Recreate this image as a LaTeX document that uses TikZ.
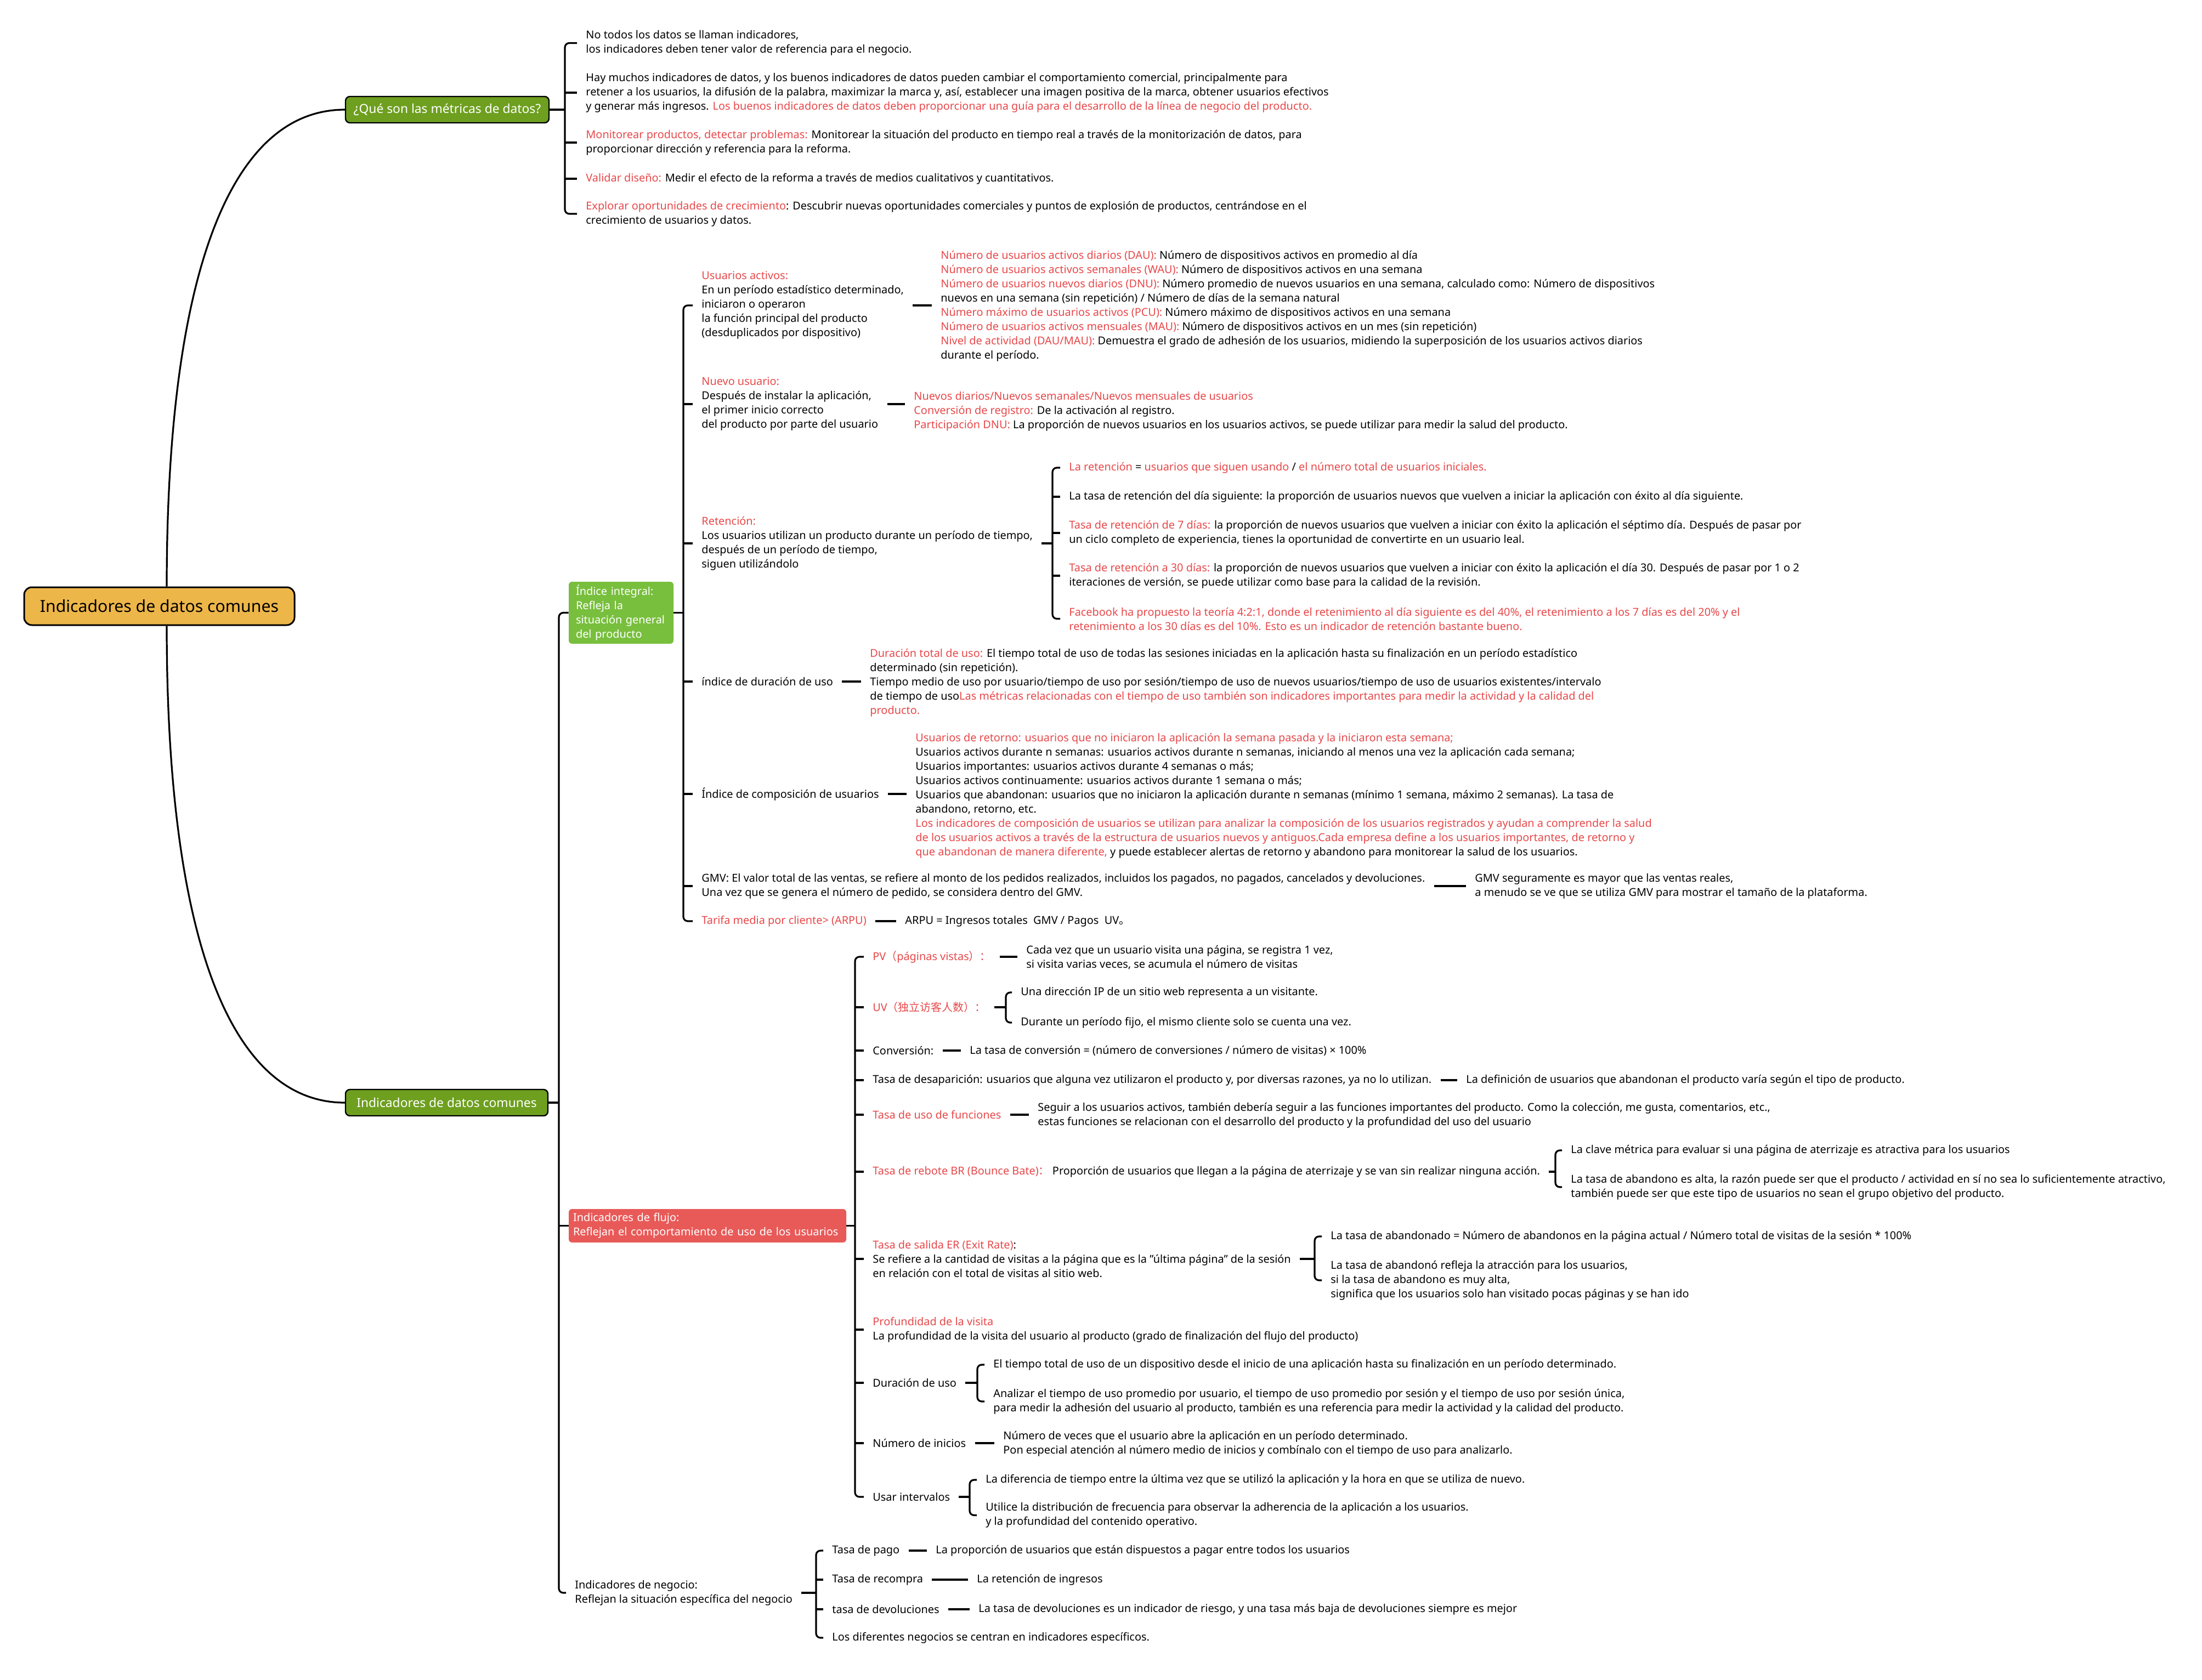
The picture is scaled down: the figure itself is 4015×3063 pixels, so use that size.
\documentclass[tikz,border=0pt]{standalone}
\usepackage{fontspec}
\setmainfont{Noto Sans}
\newfontfamily\cjk{Noto Sans CJK SC}
\usetikzlibrary{calc}
\definecolor{red1}{HTML}{E8484A}
\definecolor{rootfill}{HTML}{EDB649}
\definecolor{green1}{HTML}{6E9F1F}
\definecolor{green2}{HTML}{78BF3D}
\definecolor{redbox}{HTML}{E85A58}
\newcommand\rd[1]{\textcolor{red1}{#1}}
\newcommand\bodyfont{\fontsize{9.95}{13}\selectfont\hyphenpenalty=10000}
\newcommand\brkt[3]{\draw[brkline] (#2.west) -| (#1 |- #3.west) -- (#3.west);}
\newcommand\tick[2]{\draw[conn] (#2.west) -- (#1 |- #2.west);}
\newcommand\feed[2]{\draw[conn] (#2.east) -- (#1 |- #2.east);}
\newcommand\link[2]{\draw[conn] (#1.east) -- (#2.west |- #1.east);}
\tikzset{
  txt/.style={anchor=west, align=left, inner xsep=8pt, inner ysep=2pt, font=\bodyfont},
  conn/.style={line width=1.6pt},
  brkline/.style={line width=1.6pt, rounded corners=4pt},
  gbox/.style={fill=green1, draw=black, line width=1.2pt, rounded corners=4pt, text=white,
    font=\fontsize{11.4}{14}\selectfont, inner sep=0pt, minimum height=24pt},
}
\begin{document}
\begin{tikzpicture}[x=0.5pt,y=-0.5pt]
\useasboundingbox (0,0) rectangle (4015,3063);
\fill[white] (0,0) rectangle (4015,3063);

% bracket x positions
\coordinate (bq) at (1030,0);
\coordinate (bB) at (1019,0);
\coordinate (bi) at (1246,0);
\coordinate (brt) at (1919,0);
\coordinate (bf) at (1559,0);
\coordinate (buv) at (1834,0);
\coordinate (brb) at (2836,0);
\coordinate (ber) at (2397,0);
\coordinate (bdur) at (1782,0);
\coordinate (bui) at (1768,0);
\coordinate (bn) at (1488,0);
\coordinate (cx) at (304,0);

% main nodes
\node[fill=rootfill, draw=black, line width=1.5pt, rounded corners=7pt, minimum width=246.5pt,
  minimum height=34.5pt, inner sep=0pt, font=\fontsize{15.1}{18}\selectfont] (root) at (290.5,1105.5) {Indicadores de datos comunes};
\node[gbox, minimum width=185.5pt] (b1) at (815.5,200) {¿Qué son las métricas de datos?};
\node[gbox, minimum width=184.5pt] (b2) at (814.5,2011) {Indicadores de datos comunes};
\draw[conn] (root.north -| cx) .. controls (304,500) and (420,200) .. (b1.west);
\draw[conn] (root.south -| cx) .. controls (304,1711) and (420,2011) .. (b2.west);

% branch 1 children
\node[txt] (q1) at (1052,78.5) {No todos los datos se llaman indicadores,\\los indicadores deben tener valor de referencia para el negocio.};
\node[txt] (q2) at (1052,169) {Hay muchos indicadores de datos, y los buenos indicadores de datos pueden cambiar el comportamiento comercial, principalmente para\\retener a los usuarios, la difusión de la palabra, maximizar la marca y, así, establecer una imagen positiva de la marca, obtener usuarios efectivos\\y generar más ingresos. \rd{Los buenos indicadores de datos deben proporcionar una guía para el desarrollo de la línea de negocio del producto.}};
\node[txt] (q3) at (1052,260) {\rd{Monitorear productos, detectar problemas:} Monitorear la situación del producto en tiempo real a través de la monitorización de datos, para\\proporcionar dirección y referencia para la reforma.};
\node[txt] (q4) at (1052,326) {\rd{Validar diseño:} Medir el efecto de la reforma a través de medios cualitativos y cuantitativos.};
\node[txt] (q5) at (1052,390) {\rd{Explorar oportunidades de crecimiento}: Descubrir nuevas oportunidades comerciales y puntos de explosión de productos, centrándose en el\\crecimiento de usuarios y datos.};
\feed{bq}{b1}
\brkt{bq}{q1}{q5}
\tick{bq}{q2}\tick{bq}{q3}\tick{bq}{q4}

% branch 2 children
\node[fill=green2, rounded corners=3pt, text=white, font=\bodyfont, align=left, text width=82.5pt,
  inner xsep=6.5pt, inner ysep=0pt, minimum height=56.5pt] (ii) at (1132.5,1117.5) {Índice integral:\\Refleja la\\situación general\\del producto};
\node[fill=redbox, rounded corners=3pt, text=white, font=\bodyfont, align=left, text width=245pt,
  inner xsep=4pt, inner ysep=0pt, minimum height=30.5pt] (fl) at (1290,2235.5) {Indicadores de flujo:\\Reflejan el comportamiento de uso de los usuarios};
\node[txt] (ng) at (1032,2905) {Indicadores de negocio:\\Reflejan la situación específica del negocio};
\feed{bB}{b2}
\brkt{bB}{ii}{ng}
\tick{bB}{fl}

% Indice integral children
\node[txt] (ua) at (1263,557) {\rd{Usuarios activos:}\\En un período estadístico determinado,\\iniciaron o operaron\\la función principal del producto\\(desduplicados por dispositivo)};
\node[txt] (uaS) at (1699,558.5) {\rd{Número de usuarios activos diarios (DAU):} Número de dispositivos activos en promedio al día\\\rd{Número de usuarios activos semanales (WAU):} Número de dispositivos activos en una semana\\\rd{Número de usuarios nuevos diarios (DNU):} Número promedio de nuevos usuarios en una semana, calculado como: Número de dispositivos\\nuevos en una semana (sin repetición) / Número de días de la semana natural\\\rd{Número máximo de usuarios activos (PCU):} Número máximo de dispositivos activos en una semana\\\rd{Número de usuarios activos mensuales (MAU):} Número de dispositivos activos en un mes (sin repetición)\\\rd{Nivel de actividad (DAU/MAU):} Demuestra el grado de adhesión de los usuarios, midiendo la superposición de los usuarios activos diarios\\durante el período.};
\link{ua}{uaS}
\node[txt] (nu) at (1263,737) {\rd{Nuevo usuario:}\\Después de instalar la aplicación,\\el primer inicio correcto\\del producto por parte del usuario};
\node[txt] (nuS) at (1650,750) {\rd{Nuevos diarios/Nuevos semanales/Nuevos mensuales de usuarios}\\\rd{Conversión de registro:} De la activación al registro.\\\rd{Participación DNU:} La proporción de nuevos usuarios en los usuarios activos, se puede utilizar para medir la salud del producto.};
\link{nu}{nuS}
\node[txt] (rt) at (1263,991) {\rd{Retención:}\\Los usuarios utilizan un producto durante un período de tiempo,\\después de un período de tiempo,\\siguen utilizándolo};
\node[txt] (rt1) at (1933,853) {\rd{La retención} = \rd{usuarios que siguen usando} / \rd{el número total de usuarios iniciales.}};
\node[txt] (rt2) at (1933,906) {La tasa de retención del día siguiente: la proporción de usuarios nuevos que vuelven a iniciar la aplicación con éxito al día siguiente.};
\node[txt] (rt3) at (1933,972) {\rd{Tasa de retención de 7 días:} la proporción de nuevos usuarios que vuelven a iniciar con éxito la aplicación el séptimo día. Después de pasar por\\un ciclo completo de experiencia, tienes la oportunidad de convertirte en un usuario leal.};
\node[txt] (rt4) at (1933,1050) {\rd{Tasa de retención a 30 días:} la proporción de nuevos usuarios que vuelven a iniciar con éxito la aplicación el día 30. Después de pasar por 1 o 2\\iteraciones de versión, se puede utilizar como base para la calidad de la revisión.};
\node[txt, text=red1] (rt5) at (1933,1128.5) {Facebook ha propuesto la teoría 4:2:1, donde el retenimiento al día siguiente es del 40\%, el retenimiento a los 7 días es del 20\% y el\\retenimiento a los 30 días es del 10\%. Esto es un indicador de retención bastante bueno.};
\feed{brt}{rt}
\brkt{brt}{rt1}{rt5}
\tick{brt}{rt2}\tick{brt}{rt3}\tick{brt}{rt4}
\node[txt] (du) at (1263,1243) {índice de duración de uso};
\node[txt] (duS) at (1570,1245) {\rd{Duración total de uso:} El tiempo total de uso de todas las sesiones iniciadas en la aplicación hasta su finalización en un período estadístico\\determinado (sin repetición).\\Tiempo medio de uso por usuario/tiempo de uso por sesión/tiempo de uso de nuevos usuarios/tiempo de uso de usuarios existentes/intervalo\\de tiempo de uso\rd{Las métricas relacionadas con el tiempo de uso también son indicadores importantes para medir la actividad y la calidad del}\\\rd{producto.}};
\link{du}{duS}
\node[txt] (co) at (1263,1448) {Índice de composición de usuarios};
\node[txt] (coS) at (1653,1451) {\rd{Usuarios de retorno: usuarios que no iniciaron la aplicación la semana pasada y la iniciaron esta semana;}\\Usuarios activos durante n semanas: usuarios activos durante n semanas, iniciando al menos una vez la aplicación cada semana;\\Usuarios importantes: usuarios activos durante 4 semanas o más;\\Usuarios activos continuamente: usuarios activos durante 1 semana o más;\\Usuarios que abandonan: usuarios que no iniciaron la aplicación durante n semanas (mínimo 1 semana, máximo 2 semanas). La tasa de\\abandono, retorno, etc.\\\rd{Los indicadores de composición de usuarios se utilizan para analizar la composición de los usuarios registrados y ayudan a comprender la salud}\\\rd{de los usuarios activos a través de la estructura de usuarios nuevos y antiguos.Cada empresa define a los usuarios importantes, de retorno y}\\\rd{que abandonan de manera diferente,} y puede establecer alertas de retorno y abandono para monitorear la salud de los usuarios.};
\link{co}{coS}
\node[txt] (gmv) at (1263,1616) {GMV: El valor total de las ventas, se refiere al monto de los pedidos realizados, incluidos los pagados, no pagados, cancelados y devoluciones.\\Una vez que se genera el número de pedido, se considera dentro del GMV.};
\node[txt] (gmvS) at (2673,1616) {GMV seguramente es mayor que las ventas reales,\\a menudo se ve que se utiliza GMV para mostrar el tamaño de la plataforma.};
\link{gmv}{gmvS}
\node[txt, text=red1] (arpu) at (1263,1680) {Tarifa media por cliente> (ARPU)};
\node[txt] (arpuS) at (1634,1680) {ARPU = Ingresos totales\ \ GMV / Pagos\ \ UV{\cjk 。}};
\link{arpu}{arpuS}
\feed{bi}{ii}
\brkt{bi}{ua}{arpu}
\tick{bi}{nu}\tick{bi}{rt}\tick{bi}{du}\tick{bi}{co}\tick{bi}{gmv}

% Flujo children
\node[txt, text=red1] (pv) at (1575,1745) {PV{\cjk （}páginas vistas{\cjk ）：}};
\node[txt] (pvS) at (1855,1746.5) {Cada vez que un usuario visita una página, se registra 1 vez,\\si visita varias veces, se acumula el número de visitas};
\link{pv}{pvS}
\node[txt, text=red1] (uv) at (1575,1837) {UV{\cjk （独立访客人数）：}};
\node[txt] (uv1) at (1845,1810) {Una dirección IP de un sitio web representa a un visitante.};
\node[txt] (uv2) at (1845,1865) {Durante un período fijo, el mismo cliente solo se cuenta una vez.};
\feed{buv}{uv}
\brkt{buv}{uv1}{uv2}
\node[txt] (cv) at (1575,1916) {Conversión:};
\node[txt] (cvS) at (1752,1916) {La tasa de conversión = (número de conversiones / número de visitas) × 100\%};
\link{cv}{cvS}
\node[txt] (ds) at (1575,1970) {Tasa de desaparición: usuarios que alguna vez utilizaron el producto y, por diversas razones, ya no lo utilizan.};
\node[txt] (dsS) at (2657,1970) {La definición de usuarios que abandonan el producto varía según el tipo de producto.};
\link{ds}{dsS}
\node[txt, text=red1] (fu) at (1575,2033) {Tasa de uso de funciones};
\node[txt] (fuS) at (1876,2034) {Seguir a los usuarios activos, también debería seguir a las funciones importantes del producto. Como la colección, me gusta, comentarios, etc.,\\estas funciones se relacionan con el desarrollo del producto y la profundidad del uso del usuario};
\link{fu}{fuS}
\node[txt] (rb) at (1575,2137) {\rd{Tasa de rebote BR (Bounce Bate){\cjk ：}} Proporción de usuarios que llegan a la página de aterrizaje y se van sin realizar ninguna acción.};
\node[txt] (rb1) at (2848,2098) {La clave métrica para evaluar si una página de aterrizaje es atractiva para los usuarios};
\node[txt] (rb2) at (2848,2165) {La tasa de abandono es alta, la razón puede ser que el producto / actividad en sí no sea lo suficientemente atractivo,\\también puede ser que este tipo de usuarios no sean el grupo objetivo del producto.};
\feed{brb}{rb}
\brkt{brb}{rb1}{rb2}
\node[txt] (er) at (1575,2296) {\rd{Tasa de salida ER (Exit Rate)}:\\Se refiere a la cantidad de visitas a la página que es la "última página" de la sesión\\en relación con el total de visitas al sitio web.};
\node[txt] (er1) at (2410,2255) {La tasa de abandonado = Número de abandonos en la página actual / Número total de visitas de la sesión * 100\%};
\node[txt] (er2) at (2410,2335) {La tasa de abandonó refleja la atracción para los usuarios,\\si la tasa de abandono es muy alta,\\significa que los usuarios solo han visitado pocas páginas y se han ido};
\feed{ber}{er}
\brkt{ber}{er1}{er2}
\node[txt] (pf) at (1575,2425) {\rd{Profundidad de la visita}\\La profundidad de la visita del usuario al producto (grado de finalización del flujo del producto)};
\node[txt] (dur) at (1575,2522) {Duración de uso};
\node[txt] (dur1) at (1795,2489) {El tiempo total de uso de un dispositivo desde el inicio de una aplicación hasta su finalización en un período determinado.};
\node[txt] (dur2) at (1795,2556) {Analizar el tiempo de uso promedio por usuario, el tiempo de uso promedio por sesión y el tiempo de uso por sesión única,\\para medir la adhesión del usuario al producto, también es una referencia para medir la actividad y la calidad del producto.};
\feed{bdur}{dur}
\brkt{bdur}{dur1}{dur2}
\node[txt] (ni) at (1575,2632) {Número de inicios};
\node[txt] (niS) at (1813,2633.5) {Número de veces que el usuario abre la aplicación en un período determinado.\\Pon especial atención al número medio de inicios y combínalo con el tiempo de uso para analizarlo.};
\link{ni}{niS}
\node[txt] (ui) at (1575,2730) {Usar intervalos};
\node[txt] (ui1) at (1781,2699) {La diferencia de tiempo entre la última vez que se utilizó la aplicación y la hora en que se utiliza de nuevo.};
\node[txt] (ui2) at (1781,2763.5) {Utilice la distribución de frecuencia para observar la adherencia de la aplicación a los usuarios.\\y la profundidad del contenido operativo.};
\feed{bui}{ui}
\brkt{bui}{ui1}{ui2}
\feed{bf}{fl}
\brkt{bf}{pv}{ui}
\tick{bf}{uv}\tick{bf}{cv}\tick{bf}{ds}\tick{bf}{fu}\tick{bf}{rb}\tick{bf}{er}\tick{bf}{pf}\tick{bf}{dur}\tick{bf}{ni}

% Negocio children
\node[txt] (n1) at (1501,2828) {Tasa de pago};
\node[txt] (n1S) at (1690,2828) {La proporción de usuarios que están dispuestos a pagar entre todos los usuarios};
\link{n1}{n1S}
\node[txt] (n2) at (1501,2881) {Tasa de recompra};
\node[txt] (n2S) at (1765,2881) {La retención de ingresos};
\link{n2}{n2S}
\node[txt] (n3) at (1501,2935) {tasa de devoluciones};
\node[txt] (n3S) at (1768,2935) {La tasa de devoluciones es un indicador de riesgo, y una tasa más baja de devoluciones siempre es mejor};
\link{n3}{n3S}
\node[txt] (n4) at (1501,2987) {Los diferentes negocios se centran en indicadores específicos.};
\feed{bn}{ng}
\brkt{bn}{n1}{n4}
\tick{bn}{n2}\tick{bn}{n3}
\end{tikzpicture}
\end{document}
